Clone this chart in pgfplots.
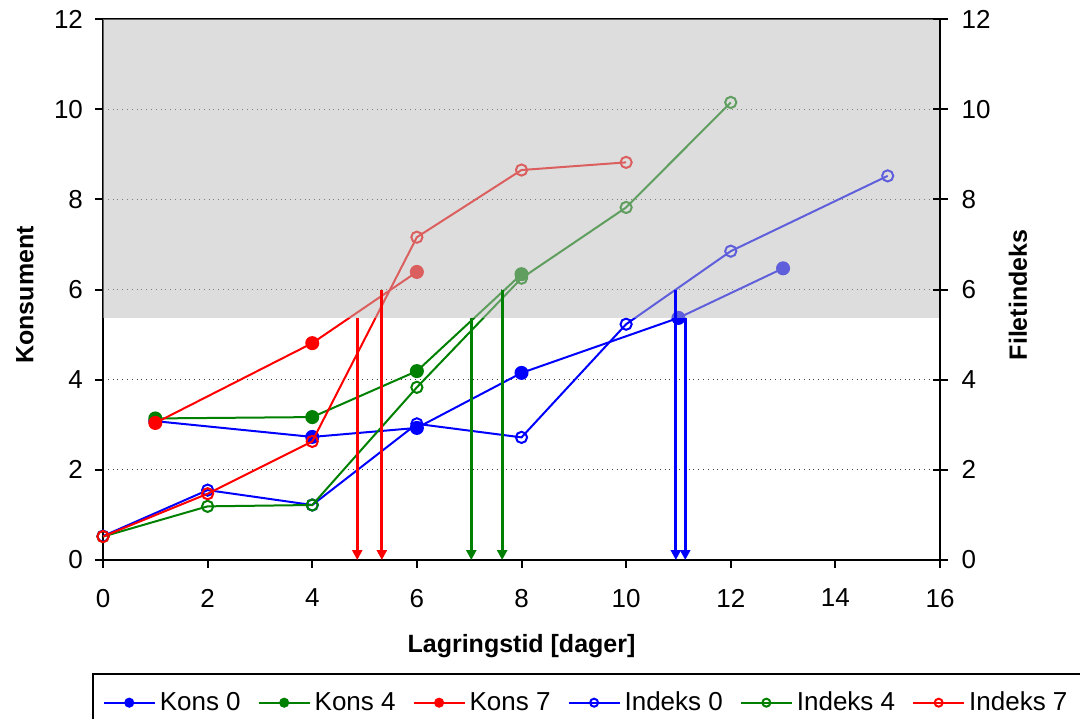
\documentclass[border=0pt]{standalone}
\usepackage{fontspec}
\setmainfont{Liberation Sans}
\usepackage{pgfplots}
\pgfplotsset{compat=1.18}
\usetikzlibrary{arrows.meta}

\definecolor{kblue}{RGB}{0,0,255}
\definecolor{kgreen}{RGB}{0,128,0}
\definecolor{kred}{RGB}{255,0,0}
\definecolor{shade}{RGB}{188,188,188}

\pgfplotsset{
  chart/.style={
    width=418.5pt, height=270.5pt, scale only axis,
    xmin=0, xmax=16, ymin=0, ymax=12,
    ytick={0,2,...,12},
    axis line style={line width=1pt},
    tick style={line width=1pt, black},
    /pgf/number format/assume math mode=true,
    tick label style={font=\fontsize{13}{15}\selectfont},
    label style={font=\fontsize{12.5}{15}\selectfont\bfseries},
    clip=false,
    clip marker paths=true,
  },
  kons/.style={#1, line width=1pt, mark=*, mark size=3pt, mark options={solid, fill=#1}},
  idx/.style={#1, line width=1pt, mark=o, mark size=2.8pt, mark options={solid}},
  drop/.style={#1, line width=1.5pt, forget plot, -{Triangle[width=5pt,length=5pt]}},
}

\begin{document}
\begin{tikzpicture}
\path[use as bounding box] (-51.5pt,-79pt) rectangle (488.5pt,280pt);

\begin{axis}[chart,
  at={(0,0)}, anchor=south west,
  xtick={0,2,...,16},
  tick align=outside, tick pos=left,
  major tick length=4pt,
  xticklabel style={yshift=-7pt},
  yticklabel style={xshift=-2.5pt},
  ymajorgrids,
  grid style={dotted, line width=0.6pt, black!75},
  xlabel={Lagringstid [dager]},
  ylabel={Konsument},
  xlabel style={at={(axis description cs:0.5,-0.159)}, anchor=center},
  ylabel style={at={(axis description cs:-0.0932,0.49)}, anchor=center},
  legend columns=6,
  legend cell align=left,
  legend style={at={(-0.01314,-0.2089)}, anchor=north west,
    draw=black, line width=0.75pt,
    font=\fontsize{13}{15}\selectfont,
    inner xsep=5pt, inner ysep=7pt,
    /tikz/every even column/.append style={column sep=6.5pt}},
  legend image code/.code={
    \draw[mark repeat=2, mark phase=2, #1, mark size=2pt]
      plot coordinates {(0pt,0pt) (12.75pt,0pt) (25.5pt,0pt)};},
]
% Konsument
\addplot[kons=kblue] coordinates {(1,3.08) (4,2.73) (6,2.93) (8,4.15) (11,5.37) (13,6.47)};
\addlegendentry{Kons 0}
\addplot[kons=kgreen] coordinates {(1,3.14) (4,3.17) (6,4.19) (8,6.34)};
\addlegendentry{Kons 4}
\addplot[kons=kred] coordinates {(1,3.04) (4,4.81) (6,6.39)};
\addlegendentry{Kons 7}
% Filetindeks
\addplot[idx=kblue] coordinates {(0,0.53) (2,1.55) (4,1.22) (6,3.02) (8,2.72) (10,5.23) (12,6.85) (15,8.52)};
\addlegendentry{Indeks 0}
\addplot[idx=kgreen] coordinates {(0,0.52) (2,1.19) (4,1.22) (6,3.83) (8,6.25) (10,7.82) (12,10.15)};
\addlegendentry{Indeks 4}
\addplot[idx=kred] coordinates {(0,0.52) (2,1.47) (4,2.63) (6,7.16) (8,8.65) (10,8.82)};
\addlegendentry{Indeks 7}

% shaded zone above the limit
\addplot[draw=none, fill=shade, fill opacity=0.51, forget plot]
  coordinates {(0,5.37) (16,5.37) (16,12) (0,12)} -- cycle;

% holdbarhet arrows
\addplot[drop=kred] coordinates {(4.86,5.37) (4.86,0)};
\addplot[drop=kred] coordinates {(5.33,6) (5.33,0)};
\addplot[drop=kgreen] coordinates {(7.04,5.37) (7.04,0)};
\addplot[drop=kgreen] coordinates {(7.63,6) (7.63,0)};
\addplot[drop=kblue] coordinates {(10.95,6) (10.95,0)};
\addplot[drop=kblue] coordinates {(11.13,5.37) (11.13,0)};
\end{axis}

\begin{axis}[chart,
  at={(0,0)}, anchor=south west,
  axis x line=none,
  axis y line*=right,
  tick align=center,
  major tick length=7.5pt,
  yticklabel style={xshift=3.5pt},
  ylabel={Filetindeks},
  ylabel style={at={(axis description cs:1.0932,0.49)}, anchor=center},
]
\end{axis}
\end{tikzpicture}
\end{document}
